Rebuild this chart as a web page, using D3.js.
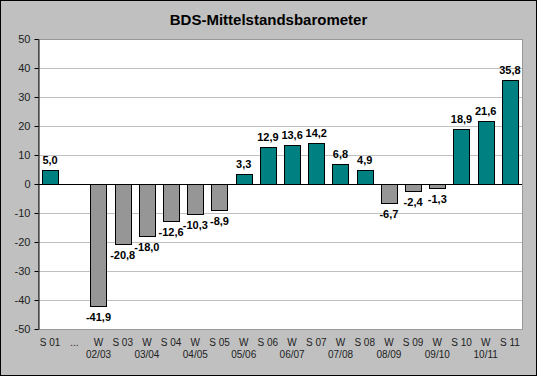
<!DOCTYPE html>
<html>
<head>
<meta charset="utf-8">
<title>BDS-Mittelstandsbarometer</title>
<script src="https://d3js.org/d3.v7.min.js"></script>
<style>
  body { margin: 0; background: #fff; }
  text { font-family: "Liberation Sans", Arial, sans-serif; }
</style>
</head>
<body>
<script>
// Kategorien (erste Zeile / zweite Zeile)
var labels1 = ["S 01", "...", "W", "S 03", "W", "S 04", "W", "S 05", "W", "S 06",
               "W", "S 07", "W", "S 08", "W", "S 09", "W", "S 10", "W", "S 11"];
var labels2 = ["", "", "02/03", "", "03/04", "", "04/05", "", "05/06", "",
               "06/07", "", "07/08", "", "08/09", "", "09/10", "", "10/11", ""];
var werte = [5.0, null, -41.9, -20.8, -18.0, -12.6, -10.3, -8.9, 3.3, 12.9,
             13.6, 14.2, 6.8, 4.9, -6.7, -2.4, -1.3, 18.9, 21.6, 35.8];
var yTicks = [50, 40, 30, 20, 10, 0, -10, -20, -30, -40, -50];

var W = 537, H = 376;
var pL = 38, pR = 522, pT = 39, pB = 329;

// deutsches Format mit normalem Bindestrich als Minus
var de = d3.formatLocale({ decimal: ",", thousands: ".", grouping: [3], currency: ["", " €"], minus: "-" });
var fmt1 = de.format(".1f");
var fmt0 = de.format("d");

var svg = d3.select("body").append("svg")
  .attr("width", W).attr("height", H);

// Hintergrund
svg.append("rect").attr("x", 0.5).attr("y", 0.5)
  .attr("width", W - 1).attr("height", H - 1)
  .attr("fill", "#c0c0c0").attr("stroke", "#000");

svg.append("text").attr("x", W / 2).attr("y", 25)
  .attr("text-anchor", "middle")
  .attr("font-size", 15).attr("font-weight", "bold")
  .text("BDS-Mittelstandsbarometer");

var x = d3.scaleBand().domain(d3.range(werte.length))
  .range([pL, pR]).paddingInner(1 / 3).paddingOuter(1 / 6);
var y = d3.scaleLinear().domain([-50, 50]).range([pB, pT]);

// Plotfläche
svg.append("rect").attr("x", pL + 0.5).attr("y", pT + 0.5)
  .attr("width", pR - pL).attr("height", pB - pT)
  .attr("fill", "#fff").attr("stroke", "#999");

svg.append("g").selectAll("line").data(yTicks.slice(1, -1)).enter().append("line")
  .attr("x1", pL).attr("x2", pR)
  .attr("y1", d => Math.round(y(d)) + 0.5).attr("y2", d => Math.round(y(d)) + 0.5)
  .attr("stroke", "#c0c0c0");

// Balken
var daten = werte.map((v, i) => ({ i: i, v: v })).filter(d => d.v !== null);
svg.append("g").selectAll("rect").data(daten).enter().append("rect")
  .attr("x", d => Math.round(x(d.i)) + 0.5)
  .attr("width", Math.round(x.bandwidth()))
  .attr("y", d => Math.round(y(Math.max(0, d.v))) + 0.5)
  .attr("height", d => Math.abs(Math.round(y(d.v)) - Math.round(y(0))))
  .attr("fill", d => d.v >= 0 ? "#008080" : "#969696")
  .attr("stroke", "#000");

// Werte
svg.append("g").selectAll("text").data(daten).enter().append("text")
  .attr("x", d => x(d.i) + x.bandwidth() / 2)
  .attr("y", d => d.v >= 0 ? y(d.v) - 6 : y(d.v) + 15)
  .attr("text-anchor", "middle")
  .attr("font-size", 11).attr("font-weight", "bold")
  .text(d => fmt1(d.v));

// Achsen
var yAxis = d3.axisLeft(y).tickValues(yTicks).tickFormat(fmt0).tickSize(4).tickSizeOuter(0);
var gy = svg.append("g").attr("transform", "translate(" + (pL + 0.5) + ",0)").call(yAxis);
gy.select(".domain").attr("stroke", "#000");
gy.selectAll("text").attr("font-size", 11).attr("font-family", "Liberation Sans, Arial, sans-serif")
  .attr("fill", "#222").attr("dx", -1);

svg.append("line").attr("x1", pL).attr("x2", pR)
  .attr("y1", Math.round(y(0)) + 0.5).attr("y2", Math.round(y(0)) + 0.5)
  .attr("stroke", "#000");

var xl = svg.append("g").selectAll("text").data(d3.range(werte.length)).enter().append("text")
  .attr("x", i => x(i) + x.bandwidth() / 2)
  .attr("y", 346)
  .attr("text-anchor", "middle")
  .attr("font-size", 10)
  .attr("fill", "#222");
xl.append("tspan").text(i => labels1[i]);
xl.append("tspan").attr("x", i => x(i) + x.bandwidth() / 2).attr("dy", 12).text(i => labels2[i]);
</script>
</body>
</html>
